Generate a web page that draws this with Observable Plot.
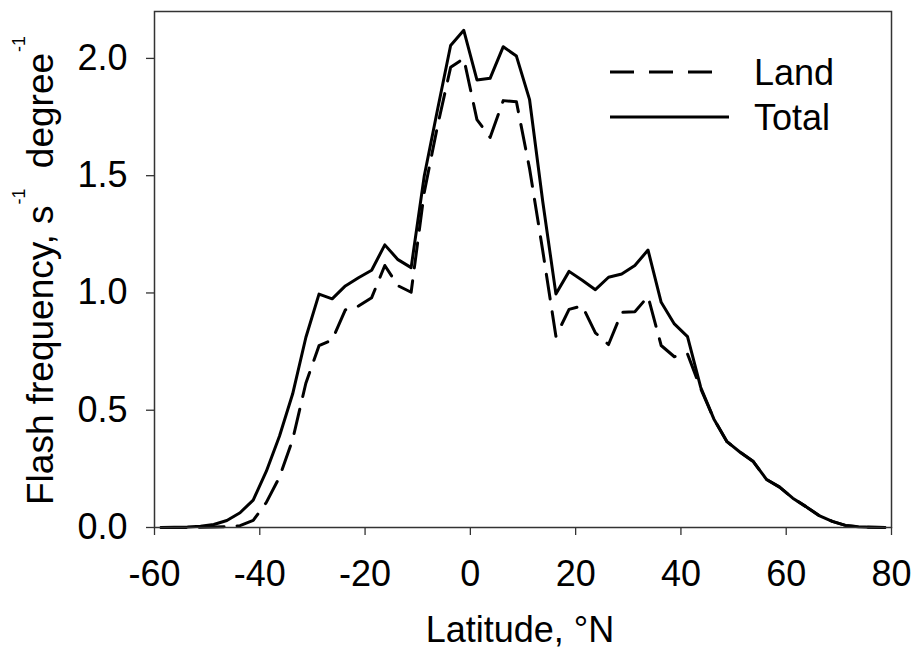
<!DOCTYPE html>
<html><head><meta charset="utf-8">
<script src="https://cdn.jsdelivr.net/npm/d3@7"></script>
<script src="https://cdn.jsdelivr.net/npm/@observablehq/plot@0.6"></script>
<style>body{margin:0;background:#fff} svg{display:block}</style>
</head><body><div id="chart"></div>
<script>
const latitudes = [-58.75,-56.25,-53.75,-51.25,-48.75,-46.25,-43.75,-41.25,-38.75,-36.25,-33.75,-31.25,-28.75,-26.25,-23.75,-21.25,-18.75,-16.25,-13.75,-11.25,-8.75,-6.25,-3.75,-1.25,1.25,3.75,6.25,8.75,11.25,13.75,16.25,18.75,21.25,23.75,26.25,28.75,31.25,33.75,36.25,38.75,41.25,43.75,46.25,48.75,51.25,53.75,56.25,58.75,61.25,63.75,66.25,68.75,71.25,73.75,76.25,78.75];
const totalValues = [0.000,0.001,0.002,0.005,0.013,0.030,0.063,0.117,0.240,0.390,0.570,0.810,0.995,0.975,1.030,1.065,1.097,1.205,1.142,1.108,1.500,1.780,2.055,2.120,1.908,1.915,2.050,2.010,1.824,1.390,0.996,1.092,1.054,1.014,1.067,1.081,1.117,1.183,0.960,0.868,0.814,0.598,0.463,0.366,0.321,0.281,0.205,0.172,0.125,0.089,0.051,0.026,0.009,0.003,0.001,0.000];
const landValues = [0.000,0.000,0.000,0.001,0.002,0.003,0.008,0.030,0.107,0.215,0.375,0.615,0.775,0.800,0.928,0.944,0.980,1.117,1.031,1.003,1.430,1.710,1.962,2.000,1.739,1.663,1.820,1.815,1.530,1.180,0.815,0.930,0.945,0.830,0.780,0.917,0.920,0.985,0.776,0.728,0.740,0.592,0.463,0.366,0.321,0.281,0.205,0.172,0.125,0.089,0.051,0.026,0.009,0.003,0.001,0.000];
const seriesNames = ["Land", "Total"];
const xTicks = [-60, -40, -20, 0, 20, 40, 60, 80];
const yTicks = [0, 0.5, 1.0, 1.5, 2.0];
const xLabel = "Latitude, °N";

const land = latitudes.map((lat, i) => ({lat, v: landValues[i]}));
const total = latitudes.map((lat, i) => ({lat, v: totalValues[i]}));

const font = "Arial, 'Liberation Sans', sans-serif";
const chart = Plot.plot({
  width: 912, height: 649,
  marginLeft: 154, marginRight: 21, marginTop: 11, marginBottom: 122,
  style: {fontFamily: font, fontSize: "36px", color: "#000", background: "#fff"},
  x: {domain: [-60, 80]},
  y: {domain: [0, 2.2]},
  marks: [
    Plot.axisX({ticks: xTicks, tickFormat: d => String(d), tickSize: 8, tickPadding: 25, label: null, fontSize: 36, stroke: "#333", strokeWidth: 1.3}),
    Plot.axisY({ticks: yTicks, tickFormat: d3.format(".1f"), tickSize: 8, tickPadding: 19, label: null, fontSize: 36, stroke: "#333", strokeWidth: 1.3}),
    Plot.line(land, {x: "lat", y: "v", stroke: "#000", strokeWidth: 3, strokeDasharray: "25,13"}),
    Plot.line(total, {x: "lat", y: "v", stroke: "#000", strokeWidth: 3}),
    Plot.frame({stroke: "#333", strokeWidth: 1.5})
  ]
});
document.getElementById("chart").appendChild(chart);

const svg = d3.select(chart);
// y axis label with superscripts
const yl = svg.append("text")
  .attr("transform", "translate(53,505) rotate(-90)")
  .attr("text-anchor", "start")
  .attr("fill", "#000")
  .style("font-family", font).style("font-size", "37px");
yl.append("tspan").text("Flash frequency, s");
yl.append("tspan").attr("dy", -28).attr("dx", 1).style("font-size", "18px").text("-1");
yl.append("tspan").attr("dy", 28).attr("dx", 10).text(" degree");
yl.append("tspan").attr("dy", -28).attr("dx", 1).style("font-size", "18px").text("-1");

// x axis label
svg.append("text")
  .attr("x", 520).attr("y", 642)
  .attr("text-anchor", "middle").attr("fill", "#000")
  .style("font-family", font).style("font-size", "36px")
  .text(xLabel);

// legend
const legend = svg.append("g");
const legendRows = [
  {name: seriesNames[0], dash: "24,15", x2: 713, y: 72},
  {name: seriesNames[1], dash: null, x2: 729, y: 117}
];
legendRows.forEach(r => {
  legend.append("line").attr("x1", 610).attr("x2", r.x2).attr("y1", r.y).attr("y2", r.y)
    .attr("stroke", "#000").attr("stroke-width", 3)
    .attr("stroke-dasharray", r.dash);
  legend.append("text").attr("x", 754).attr("y", r.y + 13)
    .attr("text-anchor", "start")
    .attr("fill", "#000").style("font-family", font).style("font-size", "36px")
    .text(r.name);
});
</script>
</body></html>
